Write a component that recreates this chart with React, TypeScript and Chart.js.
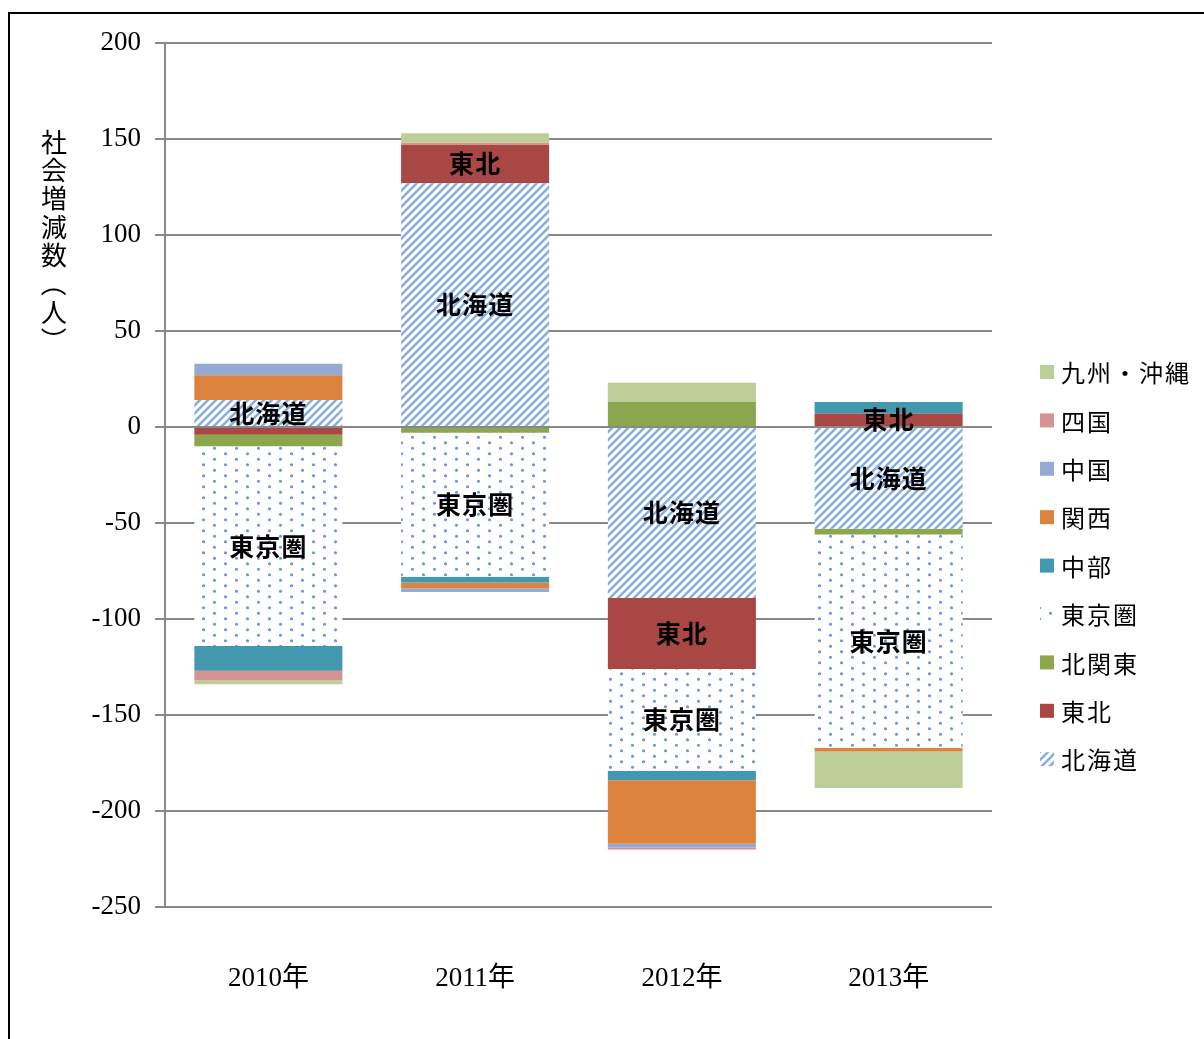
import React, { useEffect, useRef } from 'react';
import { Chart, registerables } from 'chart.js';

Chart.register(...registerables);

// ---- data ----
const categories = ['2010年', '2011年', '2012年', '2013年'];
const hokkaido = [14, 127, -89, -53];
const tohoku = [-4, 20, -37, 7];
const kitakanto = [-6, -3, 13, -3];
const tokyoken = [-104, -75, -53, -111];
const chubu = [-13, -3, -5, 6];
const kansai = [13, -3, -33, -2];
const chugoku = [6, -2, -2, 0];
const shikoku = [-5, 1, -1, 0];
const kyushu = [-2, 5, 10, -19];
const seriesNames = ['北海道', '東北', '北関東', '東京圏', '中部', '関西', '中国', '四国', '九州・沖縄'];
const labeledSeries = ['北海道', '東北', '東京圏'];
const yTitle = '社会増減数（人）';
const yMin = -250;
const yMax = 200;
const yStep = 50;

const CW = 1204;
const CH = 1039;
const JP = '"Noto Sans CJK JP", "Noto Sans", sans-serif';
const SERIF = '"Liberation Serif", "Noto Sans CJK JP", serif';

function makeHatch(): CanvasPattern | string {
  const c = document.createElement('canvas');
  const s = 8;
  c.width = s;
  c.height = s;
  const g = c.getContext('2d');
  if (!g) return '#8db3e2';
  g.fillStyle = '#ffffff';
  g.fillRect(0, 0, s, s);
  g.strokeStyle = '#88aee0';
  g.lineWidth = 2.6;
  g.beginPath();
  g.moveTo(-1, s + 1);
  g.lineTo(s + 1, -1);
  g.moveTo(-2, 2);
  g.lineTo(2, -2);
  g.moveTo(s - 2, s + 2);
  g.lineTo(s + 2, s - 2);
  g.stroke();
  return g.createPattern(c, 'repeat') as CanvasPattern;
}

function makeDots(): CanvasPattern | string {
  const c = document.createElement('canvas');
  const w = 22;
  const h = 11;
  c.width = w;
  c.height = h;
  const g = c.getContext('2d');
  if (!g) return '#dbe6f5';
  g.fillStyle = '#ffffff';
  g.fillRect(0, 0, w, h);
  g.fillStyle = '#6b98d8';
  g.beginPath();
  g.arc(5.5, 2.75, 1.6, 0, Math.PI * 2);
  g.arc(16.5, 8.25, 1.6, 0, Math.PI * 2);
  g.fill();
  return g.createPattern(c, 'repeat') as CanvasPattern;
}

export default function App() {
  const ref = useRef<HTMLCanvasElement | null>(null);

  useEffect(() => {
    const canvas = ref.current;
    if (!canvas) return;
    const hatch = makeHatch();
    const dots = makeDots();
    const values = [hokkaido, tohoku, kitakanto, tokyoken, chubu, kansai, chugoku, shikoku, kyushu];
    const fills: (string | CanvasPattern)[] = [
      hatch,
      '#a84744',
      '#8ba74d',
      dots,
      '#4298ae',
      '#dc843e',
      '#94a9d3',
      '#d49492',
      '#bccf98',
    ];

    const labelPlugin = {
      id: 'segLabels',
      afterDatasetsDraw(chart: any) {
        const ctx = chart.ctx;
        ctx.save();
        ctx.font = `bold 25px ${JP}`;
        ctx.fillStyle = '#000';
        ctx.textAlign = 'center';
        ctx.textBaseline = 'middle';
        try {
          (ctx as any).letterSpacing = '1px';
        } catch (e) {}
        chart.data.datasets.forEach((ds: any, di: number) => {
          if (!labeledSeries.includes(ds.label)) return;
          const meta = chart.getDatasetMeta(di);
          ds.data.forEach((v: number, i: number) => {
            if (Math.abs(v) < 5) return;
            const el = meta.data[i] as any;
            const cy = (el.y + el.base) / 2;
            ctx.fillText(ds.label, el.x, cy);
          });
        });
        ctx.restore();
      },
    };

    const decoPlugin = {
      id: 'deco',
      afterDraw(chart: any) {
        const ctx = chart.ctx;
        ctx.save();
        // vertical y-axis title
        ctx.font = `26px ${JP}`;
        ctx.fillStyle = '#000';
        ctx.textAlign = 'center';
        ctx.textBaseline = 'middle';
        const chars = Array.from(yTitle);
        const tx = 54;
        const ty0 = 142;
        const pitch = 28.3;
        chars.forEach((ch, i) => {
          const cy = ty0 + i * pitch;
          if (ch === '（' || ch === '）') {
            ctx.save();
            ctx.translate(tx, cy);
            ctx.rotate(Math.PI / 2);
            ctx.fillText(ch, 0, 0);
            ctx.restore();
          } else {
            ctx.fillText(ch, tx, cy);
          }
        });
        // legend (reversed order)
        ctx.font = `24px ${JP}`;
        ctx.textAlign = 'left';
        try {
          (ctx as any).letterSpacing = '2px';
        } catch (e) {}
        const n = chart.data.datasets.length;
        for (let k = 0; k < n; k++) {
          const di = n - 1 - k;
          const ds = chart.data.datasets[di];
          const cy = 372 + k * 48.4;
          ctx.fillStyle = ds.backgroundColor;
          ctx.fillRect(1040, cy - 7, 14, 14);
          ctx.fillStyle = '#000';
          ctx.fillText(ds.label, 1061, cy + 1);
        }
        ctx.restore();
      },
    };

    const chart = new Chart(canvas, {
      type: 'bar',
      data: {
        labels: categories,
        datasets: seriesNames.map((name, i) => ({
          label: name,
          data: values[i],
          backgroundColor: fills[i] as any,
          borderWidth: 0,
          barPercentage: 0.716,
          categoryPercentage: 1,
        })),
      },
      options: {
        animation: false,
        responsive: false,
        devicePixelRatio: 1,
        layout: { padding: { top: 43, right: 212, bottom: 0, left: 0 } },
        plugins: {
          legend: { display: false },
          tooltip: { enabled: false },
        },
        scales: {
          x: {
            stacked: true,
            grid: { display: false, drawTicks: false },
            border: { display: false },
            ticks: { padding: 56, color: '#000', font: { family: SERIF, size: 27 } },
            afterFit: (s: any) => {
              s.height = 132;
            },
          },
          y: {
            stacked: true,
            min: yMin,
            max: yMax,
            ticks: { stepSize: yStep, padding: 14, color: '#000', font: { family: SERIF, size: 27 } },
            grid: { color: '#888888', lineWidth: 2, tickLength: 10, drawTicks: true },
            border: { display: true, color: '#888888', width: 2 },
            afterFit: (s: any) => {
              s.width = 165;
            },
          },
        },
      } as any,
      plugins: [labelPlugin, decoPlugin],
    });
    return () => chart.destroy();
  }, []);

  return (
    <div
      style={{
        position: 'fixed',
        left: 0,
        top: 0,
        width: CW,
        height: CH,
        overflow: 'hidden',
        background: '#fff',
      }}
    >
      <canvas
        ref={ref}
        width={CW}
        height={CH}
        style={{ position: 'absolute', left: 0, top: 0, width: CW, height: CH }}
      />
      <div
        style={{
          position: 'absolute',
          left: 8,
          top: 12,
          width: 1400,
          height: 1200,
          border: '2px solid #000',
          boxSizing: 'border-box',
          pointerEvents: 'none',
        }}
      />
    </div>
  );
}
